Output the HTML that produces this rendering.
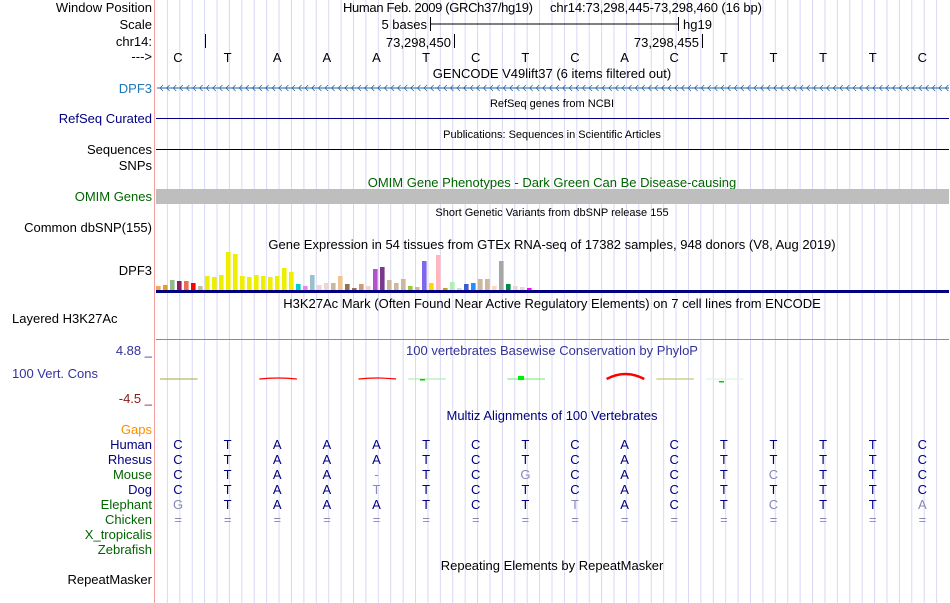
<!DOCTYPE html>
<html><head><meta charset="utf-8"><style>
body{margin:0;background:#fff;}
svg{display:block;font-family:"Liberation Sans",sans-serif;font-size:13px;}
</style></head><body>
<svg id="c" width="950" height="603">
</svg>
<script>
const gtexValues=[4,5,10,9,9,7,4,14,13,15,38,36,14,13,15,14,13,14,22,18,6,4,15,5,7,7,14,6,2,6,4,21,23,10,7,11,4,3,29,7,35,2,8,2,6,7,11,11,4,29,6,4,3,2];
const gtexColors=["#f7a55a","#f29a1f","#8fbc8f","#8b1c62","#ee6a50","#ff0000","#cdb79e","#eeee00","#eeee00","#eeee00","#eeee00","#eeee00","#eeee00","#eeee00","#eeee00","#eeee00","#eeee00","#eeee00","#eeee00","#eeee00","#00ced1","#ee82ee","#9ac0cd","#eed5d2","#eed5d2","#cdb79e","#eec591","#8b7355","#8b7355","#cd9b74","#eed5d2","#b452cd","#7a378b","#cdb79e","#cdb79e","#cdb79e","#9acd32","#cdb79e","#7b68ee","#ffd700","#ffb6c1","#cd9b1d","#b4eeb4","#d9d9d9","#3a5fcd","#1e90ff","#cdb79e","#cdb79e","#ffdab9","#a6a6a6","#008b45","#eed5d2","#eed5d2","#ff00ff"];
const bases=["C","T","A","A","A","T","C","T","C","A","C","T","T","T","T","C"];
const species=["Human","Rhesus","Mouse","Dog","Elephant"];
const aligns=[
"CTAAATCTCACTTTTC",
"CTAAATCTCACTTTTC",
"CTAA-TCGCACTCTTC",
"CTAATTCTCACTTTTC",
"GTAAATCTTACTCTTA"];
const NS="http://www.w3.org/2000/svg";
const svg=document.getElementById('c');
function el(t,a,txt){const e=document.createElementNS(NS,t);for(const k in a)e.setAttribute(k,a[k]);if(txt!==undefined)e.textContent=txt;svg.appendChild(e);return e;}
const X0=155,W=794,bw=W/16;
function bx(i){return X0+bw*i+23;}
for(let k=1;k<64;k++){const g=el('line',{x1:X0+k*W/64,x2:X0+k*W/64,y1:0,y2:603,stroke:'#d8d8f4','stroke-width':1});

}
el('line',{x1:X0-0.5,x2:X0-0.5,y1:0,y2:603,stroke:'#f4a0a0'});
const labels=[["Window Position",12,"#000"],["Scale",29,"#000"],["chr14:",46,"#000"],["--->",61,"#000"],["DPF3",93,"#1f77b4"],["RefSeq Curated",123,"#000080"],["Sequences",154,"#000"],["SNPs",170,"#000"],["OMIM Genes",201,"#006400"],["Common dbSNP(155)",232,"#000"],["DPF3",275,"#000"],["Gaps",434,"#ff8c00"],["Human",449,"#000080"],["Rhesus",464,"#000080"],["Mouse",479,"#006400"],["Dog",494,"#000080"],["Elephant",509,"#006400"],["Chicken",524,"#006400"],["X_tropicalis",539,"#006400"],["Zebrafish",554,"#006400"],["RepeatMasker",584,"#000"]];
labels.forEach(l=>{const t=el('text',{x:152,y:l[1],'text-anchor':'end',fill:l[2]},l[0]);

});
let t;
t=el('text',{x:12,y:323,fill:'#000'},'Layered H3K27Ac');
t=el('text',{x:12,y:378,fill:'#333399'},'100 Vert. Cons');
t=el('text',{x:152,y:355,'text-anchor':'end',fill:'#333399'},'4.88 _');
t=el('text',{x:152,y:403,'text-anchor':'end',fill:'#8b1a1a'},'-4.5 _');
t=el('text',{x:343,y:12,textLength:190},'Human Feb. 2009 (GRCh37/hg19)');
t=el('text',{x:550,y:12,textLength:212},'chr14:73,298,445-73,298,460 (16 bp)');
const titles=[["GENCODE V49lift37 (6 items filtered out)",78,"#000",552],["RefSeq genes from NCBI",107,"#000",552,11],["Publications: Sequences in Scientific Articles",138,"#000",552,11],["OMIM Gene Phenotypes - Dark Green Can Be Disease-causing",187,"#006400",552],["Short Genetic Variants from dbSNP release 155",216,"#000",552,11],["Gene Expression in 54 tissues from GTEx RNA-seq of 17382 samples, 948 donors (V8, Aug 2019)",249,"#000",552],["H3K27Ac Mark (Often Found Near Active Regulatory Elements) on 7 cell lines from ENCODE",308,"#000",552],["100 vertebrates Basewise Conservation by PhyloP",355,"#333399",552],["Multiz Alignments of 100 Vertebrates",420,"#000080",552],["Repeating Elements by RepeatMasker",570,"#000",552]];
titles.forEach(a=>{const t=el('text',{x:a[3],y:a[1],'text-anchor':'middle',fill:a[2],'font-size':a[4]||13},a[0]);

});
el('text',{x:427,y:29,'text-anchor':'end'},'5 bases');
el('line',{x1:430,x2:678,y1:24,y2:24,stroke:'#000'});
el('line',{x1:430.5,x2:430.5,y1:17,y2:31,stroke:'#000'});
el('line',{x1:678.5,x2:678.5,y1:17,y2:31,stroke:'#000'});
el('text',{x:683,y:29},'hg19');
el('line',{x1:205.5,x2:205.5,y1:34,y2:48,stroke:'#000'});
el('text',{x:451,y:47,'text-anchor':'end'},'73,298,450');
el('line',{x1:454.5,x2:454.5,y1:34,y2:48,stroke:'#000'});
el('text',{x:699,y:47,'text-anchor':'end'},'73,298,455');
el('line',{x1:702.5,x2:702.5,y1:34,y2:48,stroke:'#000'});
bases.forEach((b,i)=>{const t=el('text',{x:bx(i),y:62,'text-anchor':'middle'},b);

});
el('line',{x1:157,x2:949,y1:88,y2:88,stroke:'#1f5f9f'});
let d='';for(let x=160;x<949;x+=6.6){d+=`M${x+3},85 L${x},88 L${x+3},91 `;}
el('path',{d:d,stroke:'#1f5f9f',fill:'none','stroke-width':0.7});
el('line',{x1:156,x2:949,y1:118.5,y2:118.5,stroke:'#000080'});
el('line',{x1:156,x2:949,y1:149.5,y2:149.5,stroke:'#000'});
el('rect',{x:156,y:189,width:793,height:15,fill:'#bebebe'});
const base=290,sy=1.0,step=7.0;
gtexValues.forEach((v,i)=>{const r=el('rect',{x:156+i*step,y:base-v*sy,width:4.6,height:v*sy,fill:gtexColors[i]});

});
el('rect',{x:156,y:290,width:793,height:3,fill:'#000080'});
el('line',{x1:156,x2:949,y1:339.5,y2:339.5,stroke:'#f06060'});
const cons=[[0,'#b8b860',0],[2,'#ff0000',1],[4,'#ff0000',1],[5,'#b0f0b0',0],[7,'#88ee88',0],[9,'#ff0000',5],[10,'#c8c878',0],[11,'#e0f4e0',0]];
cons.forEach(c=>{const x=X0+bw*c[0]+5,w=bw-12;
const p=el('path',{d:`M${x},379 Q${x+w/2},${379-c[2]*2} ${x+w},379`,stroke:c[1],fill:'none','stroke-width':c[2]>3?2.5:1.2});
});
el('rect',{x:518,y:376,width:6,height:4,fill:'#00ee00'});
el('rect',{x:420,y:379,width:5,height:1.5,fill:'#00cc00'});
el('rect',{x:719,y:381,width:5,height:1.5,fill:'#00cc00'});
aligns.forEach((s,r)=>{for(let i=0;i<16;i++){const c=s[i];const same=c===bases[i];
const t=el('text',{x:bx(i),y:449+r*15,'text-anchor':'middle',fill:same?'#000080':'#8888bb'},c);

}});
for(let i=0;i<16;i++){el('text',{x:bx(i),y:524,'text-anchor':'middle',fill:'#8888bb'},'=');}
</script>
</body></html>
